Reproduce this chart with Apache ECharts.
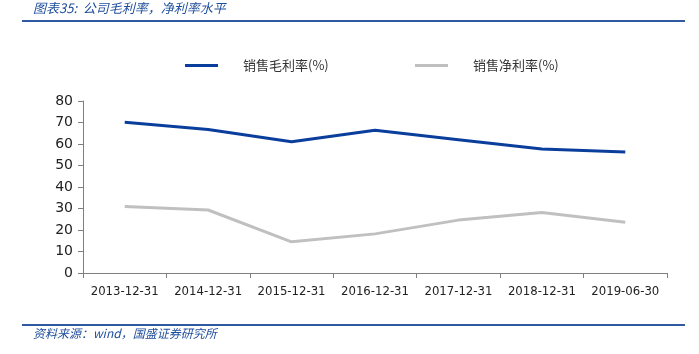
<!DOCTYPE html>
<html><head><meta charset="utf-8">
<script src="https://cdn.jsdelivr.net/npm/echarts@6/dist/echarts.min.js"></script>
<style>html,body{margin:0;padding:0;background:#fff}#c{width:699px;height:354px}</style>
</head><body><div id="c"></div>
<script>
const categories = ['2013-12-31','2014-12-31','2015-12-31','2016-12-31','2017-12-31','2018-12-31','2019-06-30'];
const grossMargin = [70.1, 66.7, 61.0, 66.4, 62.0, 57.7, 56.3];
const netMargin = [30.9, 29.3, 14.5, 18.2, 24.6, 28.1, 23.6];
const seriesNames = ['销售毛利率(%)', '销售净利率(%)'];
const yTicks = {min: 0, max: 80, interval: 10};
const titleText = '图表35:  公司毛利率，净利率水平';
const sourceText = '资料来源：wind，国盛证券研究所';

const chart = echarts.init(document.getElementById('c'));
const font = '"Noto Sans CJK SC", "DejaVu Sans", sans-serif';
const legendBase = {
  top: 54, itemWidth: 33, itemHeight: 3, icon: 'rect',
  textStyle: {fontSize: 13, color: '#333', fontFamily: font, padding: [0, 0, 0, 20]}
};
chart.setOption({
  animation: false,
  grid: {left: 83, right: 32, top: 101, bottom: 81},
  legend: [
    Object.assign({left: 180, data: [seriesNames[0]]}, legendBase),
    Object.assign({left: 410, data: [seriesNames[1]]}, legendBase)
  ],
  xAxis: {
    type: 'category', data: categories, boundaryGap: true,
    axisLine: {lineStyle: {color: '#7f7f7f', width: 1}},
    axisTick: {show: true, length: 5, lineStyle: {color: '#7f7f7f'}},
    axisLabel: {fontSize: 13, color: '#222', margin: 12, fontFamily: '"DejaVu Sans Condensed", "Liberation Sans Narrow", sans-serif', interval: 0}
  },
  yAxis: {
    type: 'value', min: yTicks.min, max: yTicks.max, interval: yTicks.interval,
    axisLine: {show: true, lineStyle: {color: '#7f7f7f', width: 1}},
    axisTick: {show: true, length: 5, inside: false, lineStyle: {color: '#7f7f7f'}},
    splitLine: {show: false},
    axisLabel: {fontSize: 14, color: '#222', margin: 10, fontFamily: '"DejaVu Sans", sans-serif'}
  },
  series: [
    {name: seriesNames[0], type: 'line', data: grossMargin, symbol: 'none',
     lineStyle: {color: '#0a3e9c', width: 3}, itemStyle: {color: '#0a3e9c'}},
    {name: seriesNames[1], type: 'line', data: netMargin, symbol: 'none',
     lineStyle: {color: '#c0c0c0', width: 3}, itemStyle: {color: '#c0c0c0'}}
  ],
  graphic: [
    {type: 'text', left: 33, top: 2, style: {text: titleText, font: 'italic 13px ' + font, fill: '#1f4e9c'}},
    {type: 'rect', shape: {x: 22, y: 20, width: 663, height: 2}, style: {fill: '#2f5aa0'}},
    {type: 'rect', shape: {x: 22, y: 324, width: 663, height: 2}, style: {fill: '#2f5aa0'}},
    {type: 'text', left: 33, top: 327, style: {text: sourceText, font: 'italic 12px ' + font, fill: '#1f4e9c'}}
  ]
});
</script></body></html>
